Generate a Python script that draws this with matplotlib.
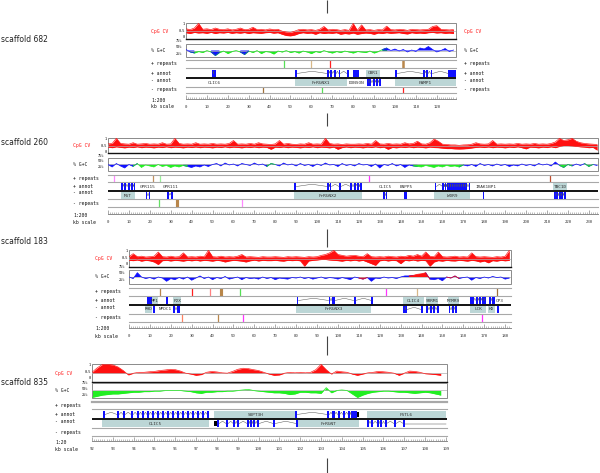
import numpy as np
import matplotlib
matplotlib.use("Agg")
from matplotlib import pyplot as plt
from matplotlib.patches import Rectangle

# ---------------- data (kb / fraction) ----------------
# CpG CV band (upper / lower envelope), one value every 2 kb
cpg_hi_682 = [0.65, 0.6, 0.7, 1.0, 0.62, 0.65, 0.6, 0.7, 0.62, 0.6, 0.65, 0.58, 0.62, 0.7, 0.6, 0.62,
              0.75, 0.6, 0.62, 0.58, 0.64, 0.6, 0.62, 0.5, 0.45, 0.42, 0.5, 0.6, 0.62, 0.58, 0.6, 0.55,
              0.62, 0.8, 0.58, 0.62, 0.6, 0.55, 0.6, 0.55, 1.0, 0.55, 0.9, 0.58, 0.6, 0.55, 0.6, 0.58,
              0.82, 0.6, 0.58, 0.62, 0.6, 0.55, 0.62, 0.6, 0.58, 0.6, 0.62, 0.8, 0.85, 0.62, 0.6, 0.58, 0.6]
cpg_lo_682 = [0.4, 0.35, 0.42, 0.38, 0.4, 0.36, 0.42, 0.35, 0.4, 0.38, 0.42, 0.36, 0.4, 0.37, 0.41, 0.35,
              0.4, 0.38, 0.36, 0.4, 0.42, 0.37, 0.4, 0.3, 0.22, 0.2, 0.25, 0.35, 0.4, 0.36, 0.38, 0.3,
              0.4, 0.35, 0.38, 0.36, 0.4, 0.3, 0.35, 0.32, 0.38, 0.3, 0.35, 0.38, 0.36, 0.3, 0.38, 0.35,
              0.4, 0.36, 0.38, 0.4, 0.35, 0.32, 0.4, 0.36, 0.38, 0.35, 0.4, 0.42, 0.38, 0.4, 0.36, 0.38, 0.35]
cpg_hi_260 = [0.62, 0.65, 1.0, 0.65, 0.62, 0.6, 0.7, 0.6, 0.62, 0.65, 0.6, 0.62, 0.6, 0.7, 0.6, 0.62,
              1.0, 0.65, 0.6, 0.62, 0.6, 0.7, 0.6, 0.62, 0.6, 0.65, 0.6, 0.62, 0.6, 0.65, 0.85, 0.6,
              0.62, 0.6, 0.65, 0.6, 0.7, 0.62, 0.6, 0.58, 0.62, 0.85, 0.6, 0.65, 0.6, 0.58, 0.62, 0.6,
              0.7, 0.6, 0.62, 0.6, 1.0, 0.65, 0.6, 0.62, 0.58, 0.62, 0.6, 0.6, 0.62, 0.6, 0.65, 0.6,
              0.85, 0.62, 0.6, 0.65, 0.6, 0.62, 0.6, 0.7, 0.62, 0.65, 0.8, 0.62, 0.6, 0.7, 0.95, 0.8,
              0.6, 0.58, 0.55, 0.55, 0.52, 0.55, 0.56, 0.6, 0.7, 0.62, 0.6, 0.62, 0.85, 0.6, 0.62, 0.6,
              0.62, 0.6, 0.65, 0.6, 0.62, 0.6, 0.65, 0.6, 0.62, 0.6, 0.65, 0.75, 1.0, 0.85, 0.9, 1.0,
              0.8, 0.7, 0.65, 0.62, 0.6, 0.58]
cpg_lo_260 = [0.4, 0.36, 0.42, 0.38, 0.35, 0.4, 0.37, 0.42, 0.36, 0.4, 0.38, 0.35, 0.4, 0.37, 0.42, 0.36,
              0.4, 0.38, 0.35, 0.4, 0.37, 0.41, 0.36, 0.4, 0.38, 0.35, 0.4, 0.37, 0.42, 0.36, 0.4, 0.38,
              0.35, 0.4, 0.37, 0.41, 0.36, 0.4, 0.38, 0.25, 0.4, 0.37, 0.41, 0.36, 0.4, 0.38, 0.35, 0.4,
              0.37, 0.42, 0.36, 0.4, 0.38, 0.35, 0.4, 0.25, 0.37, 0.41, 0.36, 0.4, 0.38, 0.35, 0.4, 0.37,
              0.42, 0.36, 0.4, 0.25, 0.38, 0.35, 0.4, 0.37, 0.41, 0.36, 0.4, 0.38, 0.35, 0.4, 0.37, 0.36,
              0.33, 0.3, 0.3, 0.28, 0.27, 0.28, 0.3, 0.34, 0.38, 0.4, 0.37, 0.41, 0.36, 0.4, 0.38, 0.35,
              0.4, 0.37, 0.42, 0.36, 0.28, 0.4, 0.38, 0.35, 0.4, 0.37, 0.42, 0.36, 0.45, 0.5, 0.5, 0.48,
              0.45, 0.42, 0.4, 0.36, 0.38, 0.2]
cpg_hi_183 = [0.62, 0.8, 0.62, 0.65, 0.6, 0.62, 0.65, 0.9, 0.62, 0.6, 0.65, 0.6, 0.62, 0.85, 0.6, 0.62,
              0.6, 0.65, 0.62, 1.0, 0.62, 0.6, 0.65, 0.6, 0.62, 0.6, 0.65, 0.75, 0.6, 0.62, 0.6, 0.58,
              0.62, 0.6, 0.6, 0.62, 0.6, 0.58, 0.62, 0.6, 0.62, 0.6, 0.58, 0.62, 0.6, 0.62, 0.7, 0.75,
              0.85, 1.0, 0.75, 0.7, 0.65, 0.68, 0.7, 0.65, 0.62, 0.8, 0.62, 0.6, 0.62, 0.6, 0.65, 0.62,
              0.6, 0.65, 0.62, 0.7, 0.65, 0.75, 0.65, 0.9, 0.65, 0.62, 0.9, 0.62, 0.6, 0.62, 0.65, 0.6,
              0.62, 0.6, 0.85, 0.62, 0.6, 0.62, 0.6, 0.58, 0.62, 0.6, 0.65, 1.0]
cpg_lo_183 = [0.4, 0.38, 0.42, 0.35, 0.4, 0.37, 0.3, 0.15, 0.38, 0.4, 0.36, 0.4, 0.38, 0.35, 0.4, 0.37,
              0.41, 0.36, 0.4, 0.38, 0.35, 0.4, 0.37, 0.3, 0.36, 0.4, 0.38, 0.35, 0.3, 0.37, 0.41, 0.36,
              0.4, 0.38, 0.38, 0.4, 0.37, 0.35, 0.4, 0.38, 0.4, 0.37, 0.05, 0.36, 0.4, 0.42, 0.45, 0.45,
              0.42, 0.4, 0.38, 0.35, 0.4, 0.37, 0.41, 0.36, 0.4, 0.3, 0.2, 0.1, 0.37, 0.41, 0.36, 0.4,
              0.38, 0.2, 0.4, 0.37, 0.42, 0.36, 0.4, 0.38, 0.05, 0.3, 0.38, 0.35, 0.4, 0.37, 0.36, 0.4,
              0.38, 0.35, 0.4, 0.37, 0.3, 0.36, 0.25, 0.38, 0.35, 0.4, 0.37, 0.4]
# scaffold 835 (1:20) is smooth: one value every 0.25 kb, filled against 0.5
cpg_835 = [0.55, 0.8, 1.0, 1.0, 0.97, 0.85, 0.65, 0.4, 0.5, 0.55, 0.55, 0.58, 0.6, 0.65, 0.68, 0.72,
           0.7, 0.62, 0.5, 0.45, 0.38, 0.42, 0.55, 0.6, 0.57, 0.52, 0.5, 0.6, 0.72, 0.78, 0.76, 0.7,
           0.65, 0.55, 0.45, 0.38, 0.4, 0.5, 0.55, 0.52, 0.55, 0.52, 0.55, 0.7, 1.0, 0.7, 0.45, 0.62,
           0.58, 0.55, 0.45, 0.38, 0.45, 0.52, 0.55, 0.6, 0.58, 0.55, 0.5, 0.38, 0.5, 0.62, 0.6, 0.55,
           0.47, 0.45, 0.42, 0.38]

# % G+C, one value every 2 kb (0.25 kb for scaffold 835)
gc_682 = [0.52, 0.47, 0.45, 0.48, 0.46, 0.5, 0.47, 0.4, 0.46, 0.49, 0.44, 0.48, 0.5, 0.47, 0.42, 0.49,
          0.46, 0.5, 0.44, 0.48, 0.47, 0.43, 0.49, 0.47, 0.5, 0.46, 0.48, 0.45, 0.49, 0.47, 0.44, 0.48,
          0.46, 0.5, 0.47, 0.45, 0.48, 0.46, 0.49, 0.47, 0.45, 0.48, 0.47, 0.46, 0.49, 0.45, 0.48, 0.52,
          0.55, 0.5, 0.53, 0.49, 0.52, 0.47, 0.51, 0.48, 0.55, 0.53, 0.58, 0.52, 0.47, 0.5, 0.54, 0.48, 0.51]
gc_260 = [0.5, 0.45, 0.52, 0.47, 0.43, 0.5, 0.46, 0.52, 0.44, 0.49, 0.47, 0.45, 0.5, 0.46, 0.48, 0.44,
          0.47, 0.45, 0.48, 0.46, 0.44, 0.47, 0.45, 0.49, 0.46, 0.5, 0.52, 0.47, 0.53, 0.49, 0.51, 0.47,
          0.52, 0.5, 0.48, 0.53, 0.49, 0.51, 0.46, 0.52, 0.5, 0.47, 0.53, 0.49, 0.51, 0.47, 0.52, 0.48,
          0.5, 0.46, 0.51, 0.48, 0.53, 0.49, 0.5, 0.46, 0.52, 0.48, 0.5, 0.47, 0.52, 0.49, 0.5, 0.46,
          0.51, 0.43, 0.5, 0.48, 0.52, 0.47, 0.5, 0.44, 0.49, 0.47, 0.46, 0.45, 0.48, 0.46, 0.44, 0.47,
          0.45, 0.48, 0.46, 0.47, 0.45, 0.49, 0.47, 0.5, 0.46, 0.52, 0.48, 0.5, 0.47, 0.51, 0.48, 0.5,
          0.46, 0.49, 0.47, 0.51, 0.48, 0.5, 0.47, 0.52, 0.49, 0.51, 0.47, 0.55, 0.48, 0.44, 0.5, 0.47,
          0.51, 0.48, 0.52, 0.46, 0.5, 0.48]
gc_183 = [0.5, 0.47, 0.58, 0.5, 0.47, 0.49, 0.46, 0.5, 0.48, 0.42, 0.47, 0.45, 0.49, 0.46, 0.5, 0.44,
          0.48, 0.52, 0.47, 0.5, 0.45, 0.49, 0.47, 0.51, 0.46, 0.48, 0.5, 0.45, 0.49, 0.47, 0.48, 0.46,
          0.5, 0.47, 0.49, 0.45, 0.48, 0.47, 0.46, 0.49, 0.48, 0.5, 0.47, 0.49, 0.46, 0.48, 0.5, 0.47,
          0.49, 0.48, 0.46, 0.49, 0.47, 0.45, 0.5, 0.48, 0.46, 0.49, 0.42, 0.48, 0.47, 0.5, 0.48, 0.49,
          0.47, 0.5, 0.52, 0.52, 0.53, 0.55, 0.56, 0.58, 0.46, 0.45, 0.47, 0.43, 0.5, 0.48, 0.52, 0.47,
          0.49, 0.5, 0.44, 0.49, 0.47, 0.5, 0.48, 0.51, 0.49, 0.5, 0.46, 0.48]
gc_835 = [0.38, 0.4, 0.42, 0.43, 0.44, 0.44, 0.45, 0.46, 0.47, 0.47, 0.48, 0.48, 0.49, 0.49, 0.5, 0.5,
          0.5, 0.5, 0.49, 0.48, 0.46, 0.45, 0.47, 0.47, 0.48, 0.48, 0.49, 0.49, 0.5, 0.51, 0.52, 0.5,
          0.49, 0.48, 0.47, 0.46, 0.46, 0.45, 0.43, 0.44, 0.47, 0.47, 0.46, 0.46, 0.45, 0.55, 0.46, 0.5,
          0.51, 0.5, 0.44, 0.38, 0.42, 0.45, 0.47, 0.48, 0.49, 0.49, 0.48, 0.47, 0.47, 0.46, 0.45, 0.46,
          0.47, 0.46, 0.44, 0.42]

# G+C colour segments (kb ranges), rest uses the track's default colour
gc_alt_682 = [(0, 2), (13, 15), (27, 29), (95, 130)]                   # blue on green
gc_alt_260 = [(14, 37), (77, 79), (147, 168), (218, 220), (229, 231)]  # green on blue
gc_alt_183 = [(111, 113), (136, 142), (154, 156)]                      # red on blue
gc_alt_835 = []

# repeats: (kb, colour, weight)
rep_plus_682 = [(47, "#55e055", 1), (60, "#d8b888", 1), (69, "#ff2020", 1), (104, "#b8864a", 2)]
rep_minus_682 = [(37, "#a0703a", 1), (65, "#55e055", 1), (104, "#ff2020", 1)]
rep_plus_260 = [(3, "#ff88ff", 1), (21.5, "#c09060", 1), (25, "#99ee99", 1), (125, "#ff33ff", 1),
                (211.5, "#c05030", 1)]
rep_minus_260 = [(24.5, "#66e066", 1), (33, "#b8864a", 2.5), (64, "#ff88ff", 1)]
rep_plus_183 = [(15, "#b8864a", 1), (30, "#ff2020", 1), (39, "#ff8080", 1), (44, "#b8864a", 2.5),
                (53, "#55e055", 1), (123, "#ff33ff", 1), (138, "#d8b888", 1), (176, "#a0703a", 1)]
rep_minus_183 = [(25.5, "#ff8060", 1), (42.5, "#b8864a", 1), (54.5, "#ff33ff", 1), (169, "#ff33ff", 1)]
rep_plus_835 = []
rep_minus_835 = []

# genes: (name, label row, label/box span, box?, exon row, exons, intron tail end)
genes_682 = [
    ("CLIC6", -1, (10, 17), False, 1, [12.3, 13.3], None),
    ("FrRUNX1", -1, (52, 77), True, 1, [52.2, 67.5, 69, 71, 73, 77], None),
    ("DONSON", -1, (77, 86), False, 1, [(80, 3)], None),
    ("CBR1", 1, (86, 93), True, -1, [86.5, 87.7, 89.5, 91, 92.4], None),
    ("FAMP1", -1, (100, 129), True, 1, [100.2, 113.3, 115, 117, (125.5, 3.5)], None),
]
genes_260 = [
    ("MST", -1, (6, 13), True, 1, [(6, 1.2), (7.8, 0.8), (9.5, 0.8), (11, 1), (12.4, 0.6)], None),
    ("GPR115", 1, (15, 23), False, -1, [(18, 0.8), (19.5, 0.8)], None),
    ("GPR111", 1, (26, 33.5), False, -1, [(28.3, 0.8), (30.3, 0.8)], None),
    ("FrRUNX2", -1, (89, 121.5), True, 1, [89.2, 105, 106, 110.5, 116, 117.5, 119.3, (120.5, 1)], None),
    ("CLIC5", 1, (129, 136), False, -1, [131.5, 132.8], None),
    ("ENPP5", 1, (139, 146), False, -1, [(141.5, 1.5)], None),
    ("WDR9", -1, (156, 173), True, 1, [156.2, 160, 161, 162, 163, 164, 165, 166, 167, 168, 169,
                                         170, 171, 172.5], None),
    ("IRAK1BP1", 1, (175, 187), False, -1, [179.2], None),
    ("TBC1D", 1, (213, 219.5), True, -1, [213.3, 214.5, 215.8, 216.8, 218.2], None),
]
genes_183 = [
    ("RHD", -1, (7.5, 11), True, 1, [(8.8, 2.2)], None),
    ("MP1", 1, (11, 14), True, -1, [(11.6, 1.0)], None),
    ("NPDC1", -1, (14, 20.5), False, 1, [17.7], None),
    ("P2X", 1, (21, 25), True, -1, [(21.2, 1), (22.8, 1.5)], None),
    ("FrRUNX3", -1, (80, 116), True, 1, [80.2, 95.5, 97, 97.7, 107.5, 116], None),
    ("CLIC4", 1, (131, 141), True, -1, [131.2, 132.2, 139.7], None),
    ("SRRM1", 1, (142, 148), True, -1, [142.3, 144, 145.5, 147.3], None),
    ("MTMR9", 1, (152.5, 158), True, -1, [(153, 0.8), (154.5, 0.8), (156, 0.8)], None),
    ("LCK", -1, (163, 171), True, 1, [163.2, (164, 1), 166, 167.5, 169, (170, 1)], None),
    ("HD", -1, (172, 175), True, 1, [(172.2, 1.2), (173.8, 1.2)], None),
    ("CP3", 1, (175.5, 179.5), False, -1, [(176.3, 0.8)], None),
]
genes_835 = [
    ("CLIC5", -1, (92.5, 97.6), True, 1, [92.53, 93.2, 93.49, 93.88, 94.16, 94.4, 94.64, 94.88, 95.13,
                                          95.37, 95.61, 95.85, 96.09, 96.33, 96.57, 96.81, 97.05,
                                          97.29, 97.53], None),
    ("SUPT3H", 1, (97.87, 101.8), True, -1, [98.0, 98.44, 98.78, 98.97, 99.45, 99.6, 99.74, 99.93,
                                              100.7, 101.8], None),
    ("FrRUNT", -1, (101.9, 104.8), True, 1, [101.75, 103.3, 103.55, 103.8, 104.05, 104.3, (104.45, 0.3)], None),
    ("FSTL6", 1, (105.2, 109), True, -1, [105.2, 105.4, 105.7, 105.85, 106.05, 106.5, 106.95], 109),
]
marks_835 = [(97.87, -1), (104.72, 1)]   # black start blocks

# ---------------- layout (pixels of the 600x473 picture) ----------------
W, H = 600, 473
MONO = "DejaVu Sans Mono"
TEAL = "#bcd6d6"
BLUE = "#1010ff"
GREEN = "#22ee22"
RED = "#ff1010"
GREY = "#8a8a8a"

panels = [
    dict(title="scaffold 682", ty=40, lx=151, x0=186, x1=456, xlim=(0, 129.2), step=2.0,
         cpg=(23, 39), gc=(44, 57), prep=(60, 68), line=78, mrep=(87, 93), ruler=98,
         scale="1:200", major=10, minor=1, exw=0.9, gcol=GREEN, acol=BLUE, right=True,
         hi=cpg_hi_682, lo=cpg_lo_682, g=gc_682, alt=gc_alt_682, rp=rep_plus_682,
         rm=rep_minus_682, genes=genes_682, marks=[]),
    dict(title="scaffold 260", ty=142, lx=73, x0=108, x1=598, xlim=(0, 234.4), step=2.0,
         cpg=(138, 153), gc=(158, 171), prep=(175, 182), line=191, mrep=(199, 207), ruler=213,
         scale="1:200", major=10, minor=1, exw=0.9, gcol=BLUE, acol=GREEN, right=False,
         hi=cpg_hi_260, lo=cpg_lo_260, g=gc_260, alt=gc_alt_260, rp=rep_plus_260,
         rm=rep_minus_260, genes=genes_260, marks=[]),
    dict(title="scaffold 183", ty=241, lx=95, x0=129, x1=511, xlim=(0, 182.8), step=2.0,
         cpg=(250, 267), gc=(270, 284), prep=(288, 296), line=305, mrep=(314, 322), ruler=327,
         scale="1:200", major=10, minor=1, exw=0.9, gcol=BLUE, acol=RED, right=False,
         hi=cpg_hi_183, lo=cpg_lo_183, g=gc_183, alt=gc_alt_183, rp=rep_plus_183,
         rm=rep_minus_183, genes=genes_183, marks=[]),
    dict(title="scaffold 835", ty=382, lx=55, x0=92, x1=447, xlim=(92, 109.05), step=0.25,
         cpg=(364, 382), gc=(383, 398), prep=(402, 409), line=419, mrep=(428, 436), ruler=440,
         scale="1:20", major=1, minor=0.1, exw=0.1, gcol=GREEN, acol=BLUE, right=False,
         hi=cpg_835, lo=None, g=gc_835, alt=gc_alt_835, rp=rep_plus_835,
         rm=rep_minus_835, genes=genes_835, marks=marks_835),
]

fig = plt.figure(figsize=(6, 4.73), dpi=100)


def add_ax(x0, x1, y0, y1, xlim, ylim):
    ax = fig.add_axes([x0 / W, 1 - y1 / H, (x1 - x0) / W, (y1 - y0) / H])
    ax.set_xlim(*xlim)
    ax.set_ylim(*ylim)
    ax.set_axis_off()
    return ax


def ftext(x, y, s, **kw):
    kw.setdefault("fontsize", 3.4)
    kw.setdefault("family", MONO)
    kw.setdefault("color", "#111111")
    fig.text(x / W, 1 - y / H, s, va="center", **kw)


def frame(ax, color=GREY, lw=0.7):
    ax.add_patch(Rectangle((0, 0), 1, 1, transform=ax.transAxes, fill=False,
                           ec=color, lw=lw, clip_on=False))


# background: the divider line only shows between the panels
bg = add_ax(0, W, 0, H, (0, W), (H, 0))
gap_top = [0, 113, 229, 336, 458]
gap_bot = [13, 126, 247, 355, 473]
bg.vlines([327] * len(gap_top), gap_top, gap_bot, color="#444444", lw=0.8)

for p in panels:
    x0, x1, xl = p["x0"], p["x1"], p["xlim"]
    lx = p["lx"]
    small = p["scale"] == "1:20"

    # --- CpG CV ---
    ax = add_ax(x0, x1, p["cpg"][0], p["cpg"][1], xl, (0, 1.02))
    hi = np.array(p["hi"])
    xs = xl[0] + np.arange(len(hi)) * p["step"]
    ax.axhline(0.5, color="#b0b0b0", lw=0.5)
    if p["lo"] is None:
        ax.fill_between(xs, 0.5, hi, color=RED, lw=0)
        ax.plot(xs, hi, color=RED, lw=0.45)
    else:
        n = min(len(hi), len(p["lo"]))
        lo = np.array(p["lo"][:n])
        ax.fill_between(xs[:n], lo, hi[:n], color=RED, lw=0)
        ax.plot(xs[:n], hi[:n], color=RED, lw=0.45)
        ax.plot(xs[:n], lo, color=RED, lw=0.45)
    frame(ax)
    ax.axhline(0, color="#111111", lw=1.0, clip_on=False)
    T = p["cpg"][0]
    for dy, lab in [(1, "1"), (8, "0.5"), (13.5 if small else 14, "0")]:
        ftext(x0 - 1, T + dy, lab, ha="right", fontsize=2.6)
    ym = sum(p["cpg"]) / 2
    ftext(lx, ym, "CpG CV", color=RED)
    if p["right"]:
        ftext(x1 + 8, ym, "CpG CV", color=RED)

    # --- % G+C ---
    ax = add_ax(x0, x1, p["gc"][0], p["gc"][1], xl, (0.37, 0.63))
    g = np.array(p["g"])
    xs = xl[0] + np.arange(len(g)) * p["step"]
    alt = np.zeros(len(g), bool)
    for a, b in p["alt"]:
        alt |= (xs >= a) & (xs <= b)
    ax.axhline(0.5, color="#b0b0b0", lw=0.5)
    for col, m in [(p["gcol"], ~alt), (p["acol"], alt)]:
        mm = m.copy()
        mm[1:] |= m[:-1]
        mm[:-1] |= m[1:]
        if not mm.any():
            continue
        ax.fill_between(xs, 0.5, g, where=mm, color=col, lw=0)
        ax.plot(xs, np.where(mm, g, np.nan), color=col, lw=0.5)
    frame(ax)
    G = p["gc"][0]
    for dy, lab in [(0.5 if small else -2.5, "75%"), (5.5 if small else 3.5, "50%"),
                    (11.5 if small else 9.5, "25%")]:
        ftext(x0 - 4, G + dy, lab, ha="right", fontsize=2.6)
    ym = sum(p["gc"]) / 2
    ftext(lx, ym, "% G+C")
    if p["right"]:
        ftext(x1 + 8, ym, "% G+C")

    # --- repeats ---
    for key, (ya, yb), lab in [("rp", p["prep"], "+ repeats"), ("rm", p["mrep"], "- repeats")]:
        ax = add_ax(x0, x1, ya, yb, xl, (0, 1))
        for pos, col, wt in p[key]:
            ax.vlines(pos, 0, 1, color=col, lw=0.9 * wt)
        ax.axhline(1, color="#a8a8a8", lw=1.6 if (key == "rp" and small) else 0.8, clip_on=False)
        ax.axhline(0, color="#a8a8a8", lw=0.8, clip_on=False)
        ftext(lx, (ya + yb) / 2, lab)
        if p["right"]:
            ftext(x1 + 8, (ya + yb) / 2, lab)

    # --- annotation (+ row above the black line, - row below) ---
    ax = add_ax(x0, x1, p["line"] - 9, p["line"] + 9, xl, (-1, 1))
    for name, lrow, span, box, erow, exons, tail in p["genes"]:
        if box:
            y0 = 0.08 if lrow > 0 else -0.92
            ax.add_patch(Rectangle((span[0], y0), span[1] - span[0], 0.84, color=TEAL, lw=0))
        ax.text((span[0] + span[1]) / 2, 0.5 * lrow, name, ha="center", va="center",
                fontsize=3.2, family=MONO, color="#333333")
        ex = [(e, p["exw"]) if not isinstance(e, tuple) else e for e in exons]
        c = 0.5 * erow
        for (s1, w1), (s2, w2) in zip(ex[:-1], ex[1:]):
            e1 = s1 + w1
            if s2 > e1:
                ax.plot([e1, (e1 + s2) / 2, s2], [c, c + 0.25, c], color="#555555", lw=0.35)
        if tail is not None:
            s_last, w_last = ex[-1]
            ax.plot([s_last + w_last, tail], [c, c], color="#555555", lw=0.35)
        for s, w in ex:
            ax.add_patch(Rectangle((s, c - 0.4), w, 0.8, color=BLUE, lw=0))
    for pos, row in p["marks"]:
        ax.add_patch(Rectangle((pos, 0.5 * row - 0.25), 0.12, 0.5, color="black", lw=0))
    ax.axhline(0, color="black", lw=1.3)
    ftext(lx, p["line"] - 4.5, "+ annot")
    ftext(lx, p["line"] + 2, "- annot")
    if p["right"]:
        ftext(x1 + 8, p["line"] - 4.5, "+ annot")
        ftext(x1 + 8, p["line"] + 2, "- annot")

    # --- kb ruler ---
    ax = fig.add_axes([x0 / W, 1 - (p["ruler"] + 1) / H, (x1 - x0) / W, 3 / H])
    ax.set_xlim(*xl)
    ax.set_yticks([])
    for s in ["top", "left", "right"]:
        ax.spines[s].set_visible(False)
    ax.spines["bottom"].set_color(GREY)
    ax.spines["bottom"].set_linewidth(0.7)
    ax.set_facecolor("none")
    start = np.ceil(xl[0] / p["major"]) * p["major"]
    majors = np.arange(start, xl[1] + 1e-6, p["major"])
    ax.set_xticks(majors)
    ax.set_xticks(np.arange(xl[0], xl[1] + 1e-6, p["minor"]), minor=True)
    ax.set_xticklabels([f"{t:g}" for t in majors])
    ax.tick_params(axis="x", which="major", direction="in", length=3, width=0.5, color=GREY,
                   labelsize=2.9, pad=4, labelcolor="#333333")
    ax.tick_params(axis="x", which="minor", direction="in", length=1.6, width=0.4, color=GREY)
    for t in ax.get_xticklabels():
        t.set_family(MONO)
    ftext(lx, p["ruler"] + 2, p["scale"])
    ftext(lx, p["ruler"] + 9, "kb scale")

    # scaffold name
    fig.text(1 / W, 1 - p["ty"] / H, p["title"], fontsize=5.5, va="center", color="#222222")

fig.savefig("out.png", dpi=100)
